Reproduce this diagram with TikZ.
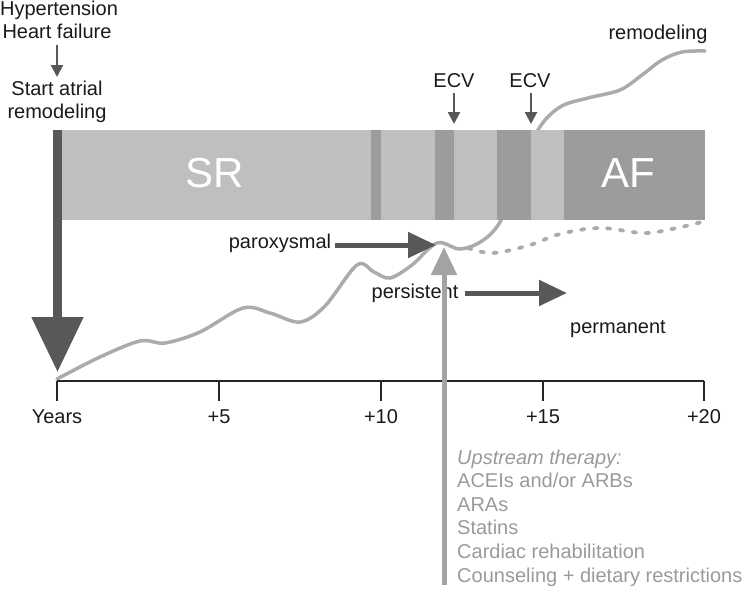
\documentclass[tikz,border=0pt]{standalone}
\usepackage{fontspec}
\setmainfont{Liberation Sans}
\usetikzlibrary{arrows.meta}
\definecolor{barlight}{HTML}{BFBFBF}
\definecolor{barmid}{HTML}{9C9C9C}
\definecolor{darkarrow}{HTML}{585858}
\definecolor{curvegray}{HTML}{ABABAB}
\definecolor{therapygray}{HTML}{9A9A9A}
\definecolor{upgray}{HTML}{A3A3A3}
\definecolor{textblack}{HTML}{1A1A1A}
\begin{document}
\begin{tikzpicture}[x=1pt,y=-1pt,
  lbl/.style={font=\fontsize{20}{23}\selectfont, text=textblack, inner sep=0pt, anchor=base},
  biglbl/.style={font=\fontsize{42}{42}\selectfont, text=white, inner sep=0pt, anchor=base},
  therapy/.style={font=\fontsize{20}{23}\selectfont, text=therapygray, inner sep=0pt, anchor=base west},
  lightseg/.style={fill=barlight, draw=none},
  midseg/.style={fill=barmid, draw=none},
  smallarrow/.style={darkarrow, line width=2.2pt, -{Triangle[length=12pt,width=12pt]}},
  fatarrow/.style={darkarrow, line width=5pt, -{Triangle[length=28pt,width=25pt]}},
  curve/.style={curvegray, line width=3.5pt, line cap=round},
  dotcurve/.style={curvegray, line width=3.8pt, line cap=round, dash pattern=on 3.5pt off 9.5pt},
  axisline/.style={draw=black!85, line width=1.2pt},
]
\useasboundingbox (0,0) rectangle (742,590);

% remodeling curve (behind the bar)
\draw[curve] plot[smooth, tension=0.55] coordinates {
  (57,379) (100,357) (140,341) (165,343) (200,332) (243,308) (270,313)
  (300,322) (325,306) (357,265) (374,272) (390,278) (412,265) (437,243)
  (460,249) (482,241) (500,222) (519,178) (538,130) (560,107) (588,98)
  (620,90) (642,75) (662,60) (682,52) (705,51)};

% bar
\path[lightseg] (62,130) rectangle (371,220);
\path[midseg]   (371,130) rectangle (381,220);
\path[lightseg] (381,130) rectangle (435,220);
\path[midseg]   (435,130) rectangle (454,220);
\path[lightseg] (454,130) rectangle (497,220);
\path[midseg]   (497,130) rectangle (531,220);
\path[lightseg] (531,130) rectangle (564,220);
\path[midseg]   (564,130) rectangle (705,220);
\node[biglbl] (sr) at (215,187) {SR};
\node[biglbl] (af) at (628,187) {AF};

% dotted continuation
\draw[dotcurve] plot[smooth, tension=0.6] coordinates {
  (468,248) (493,253) (530,245) (560,234) (600,228) (643,233) (672,229) (702,222)};

% start of remodeling arrow
\coordinate (bigtop) at (57.5,130);
\coordinate (bigtip) at (57.5,372);
\draw[darkarrow, line width=8.5pt, -{Triangle[length=55pt,width=50pt]}] (bigtop) -- (bigtip);

% top-left labels
\node[lbl] (hyp) at (59,15) {Hypertension};
\node[lbl] (hf) at (57,38) {Heart failure};
\node[lbl] (start) at (57,95) {Start atrial};
\node[lbl] (remod) at (57,118) {remodeling};
\coordinate (hfa) at (57,45);
\coordinate (sta) at (57,77);
\draw[smallarrow] (hfa) -- (sta);

% ECV
\node[lbl] (ecv1) at (454,87) {ECV};
\node[lbl] (ecv2) at (530,87) {ECV};
\coordinate (e1a) at (454,93);
\coordinate (e1b) at (454,124);
\coordinate (e2a) at (531,93);
\coordinate (e2b) at (531,124);
\draw[smallarrow] (e1a) -- (e1b);
\draw[smallarrow] (e2a) -- (e2b);

\node[lbl] (remod2) at (658,39) {remodeling};

% paroxysmal / persistent / permanent
\node[lbl] (parox) at (280,248) {paroxysmal};
\coordinate (pa) at (335,245);
\coordinate (pb) at (436,245);
\draw[fatarrow] (pa) -- (pb);
\node[lbl] (pers) at (415,298) {persistent};
\coordinate (qa) at (465,293);
\coordinate (qb) at (567,293);
\draw[fatarrow] (qa) -- (qb);
\node[lbl] (perm) at (618,333) {permanent};

% axis
\coordinate (ax0) at (57,381);
\coordinate (ax1) at (704,381);
\draw[axisline] (ax0) -- (ax1);
\foreach \x/\t in {57/Years, 219/+5, 381/+10, 543/+15, 704/+20}{
  \draw[axisline] (\x,381) -- (\x,401);
  \node[lbl] at (\x,423) {\t};
}

% upstream therapy arrow
\coordinate (ua) at (444,585);
\coordinate (ub) at (444,247);
\draw[upgray, line width=5pt, -{Triangle[length=28pt,width=25pt]}] (ua) -- (ub);

\node[therapy] (t0) at (457,464) {\itshape Upstream therapy:};
\node[therapy] (t1) at (457,487.6) {ACEIs and/or ARBs};
\node[therapy] (t2) at (457,511.2) {ARAs};
\node[therapy] (t3) at (457,534.8) {Statins};
\node[therapy] (t4) at (457,558.4) {Cardiac rehabilitation};
\node[therapy] (t5) at (457,582) {Counseling + dietary restrictions};
\end{tikzpicture}
\end{document}
